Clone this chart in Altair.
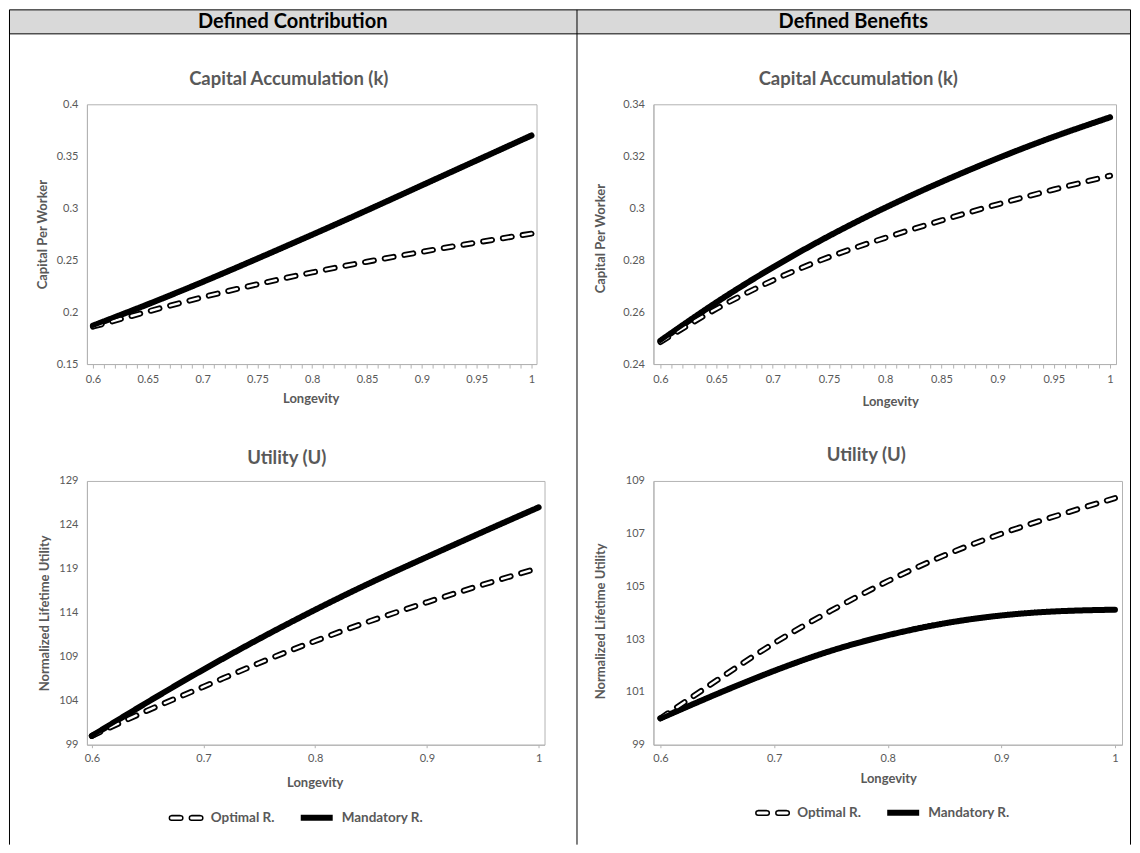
import altair as alt
import pandas as pd

# ---------------- data ----------------
LONGEVITY = [0.6, 0.65, 0.7, 0.75, 0.8, 0.85, 0.9, 0.95, 1.0]
SERIES = ["Optimal R.", "Mandatory R."]

DC_K_OPTIMAL = [0.186, 0.2005, 0.2143, 0.2268, 0.2382, 0.2485, 0.2580, 0.2670, 0.2755]
DC_K_MANDATORY = [0.187, 0.2075, 0.2290, 0.2515, 0.2745, 0.2980, 0.3220, 0.3460, 0.370]
DB_K_OPTIMAL = [0.2485, 0.2613, 0.2722, 0.2812, 0.2886, 0.2953, 0.3015, 0.3072, 0.3125]
DB_K_MANDATORY = [0.249, 0.2638, 0.2772, 0.2893, 0.3002, 0.3101, 0.3192, 0.3275, 0.335]
DC_U_OPTIMAL = [100.0, 102.9, 105.6, 108.3, 110.8, 113.1, 115.2, 117.2, 119.1]
DC_U_MANDATORY = [100.0, 103.85, 107.55, 111.05, 114.35, 117.45, 120.35, 123.2, 126.0]
DB_U_OPTIMAL = [100.0, 101.45, 102.85, 104.08, 105.2, 106.18, 107.0, 107.7, 108.35]
DB_U_MANDATORY = [100.0, 100.93, 101.8, 102.56, 103.15, 103.6, 103.9, 104.06, 104.12]

TOP_X_LABELS = [0.6, 0.65, 0.7, 0.75, 0.8, 0.85, 0.9, 0.95, 1.0]
TOP_X_MINOR = [round(0.6 + 0.01 * i, 2) for i in range(41)]
BOTTOM_X_LABELS = [0.6, 0.7, 0.8, 0.9, 1.0]
DC_K_Y_TICKS = [0.15, 0.2, 0.25, 0.3, 0.35, 0.4]
DB_K_Y_TICKS = [0.24, 0.26, 0.28, 0.3, 0.32, 0.34]
DC_U_Y_TICKS = [99, 104, 109, 114, 119, 124, 129]
DB_U_Y_TICKS = [99, 101, 103, 105, 107, 109]

HEADERS = ["Defined Contribution", "Defined Benefits"]
TITLE_K = "Capital Accumulation (k)"
TITLE_U = "Utility (U)"
YTITLE_K = "Capital Per Worker"
YTITLE_U = "Normalized Lifetime Utility"
XTITLE = "Longevity"

GRAY = "#595959"
AXIS_GRAY = "#b3b3b3"
FONT = "Lato"

TOP_LABEL_EXPR = ("abs(datum.value*20 - round(datum.value*20)) < 0.001 "
                  "? format(datum.value, '.2~f') : ''")

OUTER_W = 6
INNER_W = 2.4
SOLID_W = 4.5
DASH = [9, 11]
INTERP = "natural"
LEG_SIZE = 1024  # stroke symbol 32px long
# two hollow rounded dashes, in the [-1, 1] symbol box (scaled by 16 px)
CAPSULES = ("M-0.90625,-0.140625H-0.34375A0.140625,0.140625,0,0,1,-0.34375,0.140625"
            "H-0.90625A0.140625,0.140625,0,0,1,-0.90625,-0.140625Z"
            "M0.34375,-0.140625H0.90625A0.140625,0.140625,0,0,1,0.90625,0.140625"
            "H0.34375A0.140625,0.140625,0,0,1,0.34375,-0.140625Z")

ONE = pd.DataFrame({"k": [0]})


def frame_layers():
    base = alt.Chart(ONE)
    rect = base.mark_rect(fill="#d9d9d9", stroke="black", strokeWidth=1).encode(
        x=alt.value(-77.5), x2=alt.value(1044.5), y=alt.value(-94.5), y2=alt.value(-70.5))
    rules = [
        base.mark_rule(color="black", strokeWidth=1).encode(
            x=alt.value(xv), y=alt.value(-94.5), y2=alt.value(741))
        for xv in (-77.5, 490.5, 1044.5)
    ]
    texts = [
        base.mark_text(text=HEADERS[0], font=FONT, fontSize=20, fontWeight="bold",
                       color="black", align="center", baseline="middle").encode(
            x=alt.value(206), y=alt.value(-82.5)),
        base.mark_text(text=HEADERS[1], font=FONT, fontSize=20, fontWeight="bold",
                       color="black", align="center", baseline="middle").encode(
            x=alt.value(767), y=alt.value(-82.5)),
    ]
    return [rect] + rules + texts


def title_layer(text, tx, ty):
    return alt.Chart(ONE).mark_text(text=text, font=FONT, fontSize=18.5, fontWeight="bold",
                                    color=GRAY, align="center", baseline="middle").encode(
        x=alt.value(tx), y=alt.value(ty))


def panel(opt, mand, p, legend_pos=None, extra=None):
    n = len(LONGEVITY)
    df = pd.DataFrame({
        "longevity": LONGEVITY * 2,
        "value": opt + mand,
        "series": [SERIES[0]] * n + [SERIES[1]] * n,
    })
    df_opt = df[df.series == SERIES[0]]
    df_mand = df[df.series == SERIES[1]]

    xaxis_kw = dict(title=XTITLE, titleX=p["xtx"], titleY=p["xty"], titleBaseline="middle",
                    labelFlush=False, labelOverlap=False, labelPadding=5)
    if p["top"]:
        xaxis = alt.Axis(values=TOP_X_MINOR, labelExpr=TOP_LABEL_EXPR, tickSize=4, **xaxis_kw)
    else:
        xaxis = alt.Axis(values=BOTTOM_X_LABELS, format=".1~f", tickSize=3, **xaxis_kw)
    x = alt.X("longevity:Q", scale=alt.Scale(domain=p["xdom"], nice=False, zero=False), axis=xaxis)
    y = alt.Y("value:Q", scale=alt.Scale(domain=p["ydom"], nice=False, zero=False),
              axis=alt.Axis(values=p["yticks"], format=p["yfmt"], title=p["ytitle"],
                            titleX=p["ytx"], titleY=p["yty"], titleBaseline="middle",
                            ticks=False, labelPadding=9))

    if legend_pos is not None:
        lx, ly = legend_pos
        d = (OUTER_W - 1.5) / 2
        leg_a = alt.Legend(title=None, orient="none", legendX=lx, legendY=ly,
                           direction="horizontal", symbolType="stroke", symbolSize=LEG_SIZE,
                           symbolStrokeWidth=OUTER_W, symbolDashOffset=18.5,
                           labelFont=FONT, labelFontSize=13.5,
                           labelFontWeight="bold", labelColor=GRAY, labelOffset=6,
                           columnPadding=14, padding=0)
        leg_b = alt.Legend(title=None, orient="none", legendX=lx + d, legendY=ly + d,
                           direction="horizontal", symbolType=CAPSULES, symbolSize=LEG_SIZE,
                           symbolStrokeWidth=1.5, symbolStrokeColor="black",
                           symbolFillColor="white", labelExpr="''", labelOpacity=0,
                           labelFontSize=13.5, padding=0)
    else:
        leg_a = None
        leg_b = None

    outer = alt.Chart(df).mark_line(strokeWidth=OUTER_W, strokeCap="round", interpolate=INTERP).encode(
        x=x, y=y,
        stroke=alt.Stroke("series:N", scale=alt.Scale(domain=SERIES, range=["black", "black"]), legend=leg_a),
        strokeDash=alt.StrokeDash("series:N", scale=alt.Scale(domain=SERIES, range=[DASH, [1, 0]]),
                                  legend=leg_a),
    )
    inner = alt.Chart(df_opt).mark_line(strokeCap="round", interpolate=INTERP).encode(
        x=x, y=y,
        stroke=alt.value("white"),
        strokeWidth=alt.value(INNER_W),
        strokeDash=alt.value(DASH),
        opacity=alt.Opacity("series:N", scale=alt.Scale(domain=[SERIES[0]], range=[1]), legend=leg_b),
    )
    solid = alt.Chart(df_mand).mark_line(strokeWidth=SOLID_W, strokeCap="round", color="black",
                                         interpolate=INTERP).encode(x=x, y=y)

    layers = (extra or []) + [title_layer(p["title"], p["tx"], p["ty"]), outer, inner, solid]
    return alt.layer(*layers).properties(width=p["w"], height=p["h"])


P_TL = dict(top=True, w=450, h=260, xdom=[0.5945, 1.0046], ydom=[0.15, 0.4], yticks=DC_K_Y_TICKS,
            yfmt=".2~f", ytitle=YTITLE_K, ytx=-44, yty=130, xtx=224, xty=34,
            title=TITLE_K, tx=202, ty=-25)
P_TR = dict(top=True, w=463, h=260, xdom=[0.5938, 1.0053], ydom=[0.24, 0.34], yticks=DB_K_Y_TICKS,
            yfmt=".2~f", ytitle=YTITLE_K, ytx=-53, yty=134, xtx=237, xty=37,
            title=TITLE_K, tx=205, ty=-25)
P_BL = dict(top=False, w=458, h=264, xdom=[0.5956, 1.0053], ydom=[99, 129], yticks=DC_U_Y_TICKS,
            yfmt="d", ytitle=YTITLE_U, ytx=-42, yty=132, xtx=228, xty=38,
            title=TITLE_U, tx=200, ty=-23)
P_BR = dict(top=False, w=469, h=264, xdom=[0.5938, 1.0062], ydom=[99, 109], yticks=DB_U_Y_TICKS,
            yfmt="d", ytitle=YTITLE_U, ytx=-53, yty=140, xtx=235, xty=34,
            title=TITLE_U, tx=213, ty=-26)

tl = panel(DC_K_OPTIMAL, DC_K_MANDATORY, P_TL, extra=frame_layers())
tr = panel(DB_K_OPTIMAL, DB_K_MANDATORY, P_TR)
bl = panel(DC_U_OPTIMAL, DC_U_MANDATORY, P_BL, legend_pos=(80, 318))
br = panel(DB_U_OPTIMAL, DB_U_MANDATORY, P_BR, legend_pos=(100, 313))

grid = alt.concat(
    tl, tr, bl, br, columns=2,
    spacing=alt.RowColnumber(row=117, column=109),
    bounds="flush", align="each",
).resolve_scale(
    stroke="independent", strokeDash="independent", opacity="independent"
).resolve_legend(
    stroke="independent", strokeDash="independent", opacity="independent"
)

chart = grid.properties(padding=0, background="white").configure_view(
    stroke=AXIS_GRAY, strokeWidth=1
).configure_axis(
    grid=False, domainColor=AXIS_GRAY, tickColor=AXIS_GRAY,
    labelFont=FONT, labelFontSize=11, labelColor=GRAY,
    titleFont=FONT, titleFontSize=13, titleFontWeight="bold", titleColor=GRAY,
)

chart.save("out.html", embed_options={"renderer": "svg", "actions": False})
